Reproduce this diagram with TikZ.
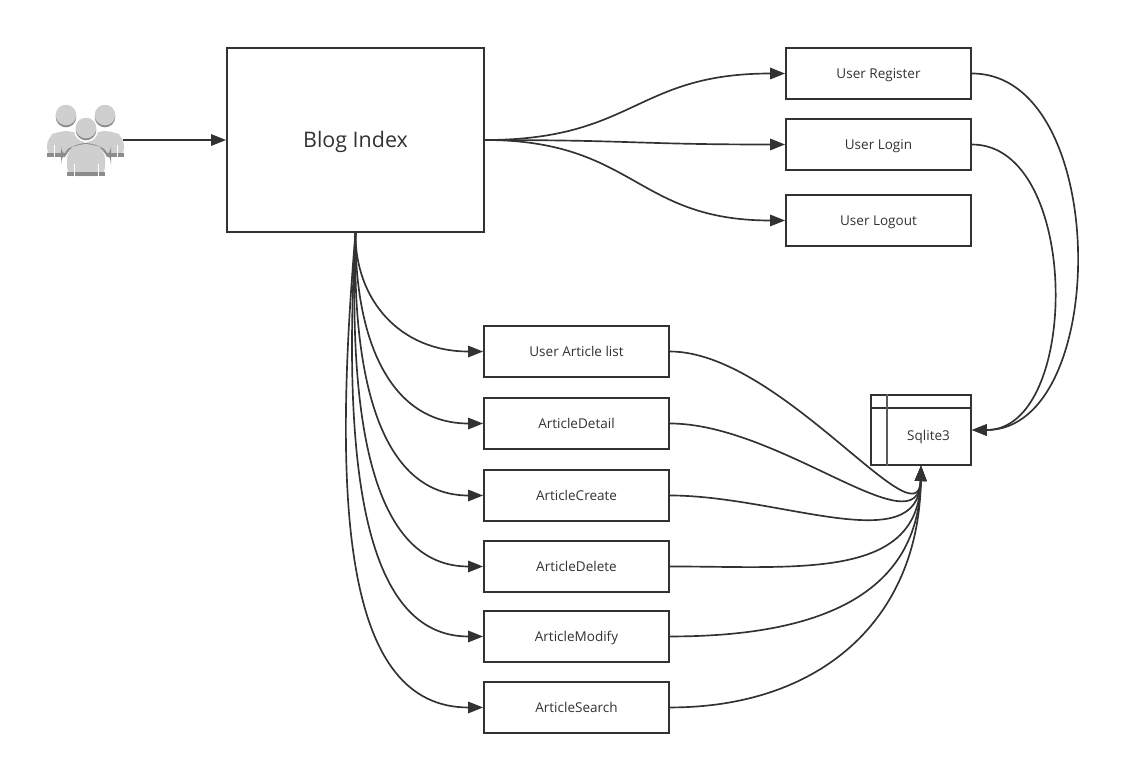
\documentclass[tikz,border=0pt]{standalone}
\usepackage{fontspec}
\setmainfont{Open Sans}
\usetikzlibrary{arrows.meta}
\definecolor{ink}{HTML}{323232}
\definecolor{iconlight}{HTML}{CFCFCF}
\definecolor{icondark}{HTML}{8C8C8C}
% #1 x, #2 top of the head, #3 bottom of the body
\newcommand{\iconperson}[3]{%
	\fill[iconlight,rounded corners=5pt] (#1-19,#3) -- (#1-19,#2+32) -- (#1-8,#2+26) -- (#1+8,#2+26) -- (#1+19,#2+32) -- (#1+19,#3) -- cycle;
	\fill[icondark] (#1-19,#3-4) rectangle (#1+19,#3);
	\fill[white] (#1-12.5,#3-12) rectangle (#1-11.5,#3);
	\fill[white] (#1+11.5,#3-12) rectangle (#1+12.5,#3);
	\fill[white] (#1,#2+12) circle (12);
	\fill[icondark] (#1,#2+12) circle (10.3);
	\fill[iconlight] (#1,#2+10) circle (10.3);
}
\begin{document}
\begin{tikzpicture}[x=0.02cm,y=-0.02cm]
	\tikzstyle{N} = [draw=ink,line width=1.1pt,minimum width=3.7cm,minimum height=1.02cm,inner sep=0pt,text=ink,text height=7pt,text depth=1.46pt,font=\fontsize{7.7pt}{9pt}\selectfont]
	\tikzstyle{link} = [-{Triangle[length=.3cm,width=.23cm]},draw=ink,line width=.95pt]
	\useasboundingbox (0,0) rectangle (1145,765);
	%users icon
	\iconperson{66}{105}{157}
	\iconperson{105}{105}{157}
	\fill[icondark,rounded corners=6pt] (61,157) -- (61,154) -- (76,143) -- (96,143) -- (111,154) -- (111,157) -- cycle;
	\fill[white,rounded corners=6pt] (63,180) -- (63,155) -- (77,145) -- (95,145) -- (109,155) -- (109,180) -- cycle;
	\iconperson{86}{118}{176}
	\coordinate (user) at (123,140);
	\node[N,minimum width=5.14cm,minimum height=3.68cm,text height=11pt,text depth=2.3pt,font=\fontsize{12.2pt}{14pt}\selectfont](index) at (355.5,140) {Blog Index};
	\draw[link](user) to (index);
	%user nodes
	\node[N](reg) at (878.5,73.5) {User Register};
	\node[N,below of=reg,node distance=1.42cm](login) {User Login};
	\node[N,below of=login,node distance=1.52cm](logout) {User Logout};
	\draw[link](index.east) .. controls (635,140) and (635,73.5) .. (reg);
	\draw[link](index.east) .. controls (635,140) and (635,144.5) .. (login);
	\draw[link](index.east) .. controls (635,140) and (635,220.5) .. (logout);
	%article nodes
	\node[N](list) at (576.5,351.5) {User Article list};
	\node[N,below of=list,node distance=1.44cm](detail) {ArticleDetail};
	\node[N,below of=detail,node distance=1.44cm](create) {ArticleCreate};
	\node[N,below of=create,node distance=1.42cm](delete) {ArticleDelete};
	\node[N,below of=delete,node distance=1.4cm](modify) {ArticleModify};
	\node[N,below of=modify,node distance=1.42cm](search) {ArticleSearch};
	\draw[link](index.south) .. controls (355,300) and (400,351.5) .. (list);
	\draw[link](index.south) .. controls (355,340) and (390,423.5) .. (detail);
	\draw[link](index.south) .. controls (352,390) and (385,495.5) .. (create);
	\draw[link](index.south) .. controls (348,430) and (375,566.5) .. (delete);
	\draw[link](index.south) .. controls (342,470) and (365,636.5) .. (modify);
	\draw[link](index.south) .. controls (332,510) and (345,707.5) .. (search);
	%database
	\node[N,minimum width=2cm,minimum height=1.4cm](db) at (921,430) {};
	\node[text=ink,inner sep=0pt,font=\fontsize{7.7pt}{9pt}\selectfont](dbtext) at (928.5,437) {Sqlite3};
	\draw[draw=ink,line width=1.1pt] ([yshift=-.28cm]db.north west) -- ([yshift=-.28cm]db.north east);
	\draw[draw=ink!80,line width=1.2pt] ([xshift=.33cm]db.north west) -- ([xshift=.33cm]db.south west);
	\draw[link](reg.east) .. controls (1111,73.5) and (1111,430) .. (db.east);
	\draw[link](login.east) .. controls (1081,144.5) and (1081,430) .. (db.east);
	\draw[link](list.east) .. controls (780,351.5) and (919,545) .. (db.south);
	\draw[link](detail.east) .. controls (780,423.5) and (919,550) .. (db.south);
	\draw[link](create.east) .. controls (780,495.5) and (919,560) .. (db.south);
	\draw[link](delete.east) .. controls (800,566.5) and (919,580) .. (db.south);
	\draw[link](modify.east) .. controls (810,636.5) and (919,600) .. (db.south);
	\draw[link](search.east) .. controls (820,707.5) and (919,620) .. (db.south);
\end{tikzpicture}
\end{document}
